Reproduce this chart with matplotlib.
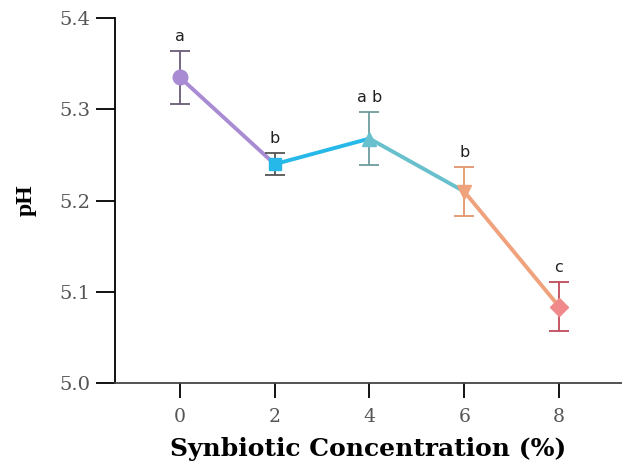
import numpy as np
import matplotlib.pyplot as plt

conc = [0, 2, 4, 6, 8]
ph = [5.335, 5.240, 5.268, 5.210, 5.084]
err = [0.029, 0.012, 0.029, 0.027, 0.027]
letters = ["a", "b", "a b", "b", "c"]
markers = ["o", "s", "^", "v", "D"]
colors = ["#a98bd3", "#27b8ea", "#67c0cc", "#f0a27c", "#f08a8a"]
err_colors = ["#6a5d78", "#555555", "#6d9c9e", "#e0946c", "#c04a5a"]

fig = plt.figure(figsize=(6.22, 4.65), dpi=100)
ax = fig.add_axes([0.185, 0.176, 0.815, 0.785])

for i in range(len(conc) - 1):
    ax.plot(conc[i:i + 2], ph[i:i + 2], color=colors[i], lw=2.8,
            solid_capstyle="round", zorder=2)

for i in range(len(conc)):
    ax.errorbar(conc[i], ph[i], yerr=err[i], fmt="none", ecolor=err_colors[i],
                elinewidth=1.3, capsize=7, capthick=1.3, zorder=3)
    ms = 9 if markers[i] in ("s", "D") else 10.5
    ax.plot(conc[i], ph[i], marker=markers[i], color=colors[i], ms=ms,
            mec=colors[i], zorder=4, linestyle="none")
    ax.text(conc[i], ph[i] + err[i] + 0.008, letters[i], ha="center",
            va="bottom", fontsize=11.5, family="DejaVu Sans", color="#222222")

ax.set_xlim(-1.37, 9.33)
ax.set_ylim(5.0, 5.4)
ax.set_xticks(conc)
ax.set_yticks([5.0, 5.1, 5.2, 5.3, 5.4])
ax.set_yticklabels(["5.0", "5.1", "5.2", "5.3", "5.4"])

for s in ["top", "right"]:
    ax.spines[s].set_visible(False)
ax.spines["left"].set_linewidth(1.3)
ax.spines["bottom"].set_linewidth(1.3)
ax.spines["bottom"].set_color("#444444")
ax.tick_params(axis="y", length=14, width=1.3, labelsize=14, labelcolor="#555555",
               pad=4)
ax.tick_params(axis="x", length=11, width=1.3, labelsize=13.5, labelcolor="#555555",
               pad=7)
for lab in ax.get_xticklabels() + ax.get_yticklabels():
    lab.set_family("DejaVu Serif")

ax.set_xlabel("Synbiotic Concentration (%)", family="DejaVu Serif",
              fontweight="bold", fontsize=18, labelpad=8)
ax.set_ylabel("pH", family="Liberation Serif", fontweight="bold", fontsize=17)
ax.yaxis.set_label_coords(-0.154, 0.5)

fig.savefig("out.png", dpi=100)
